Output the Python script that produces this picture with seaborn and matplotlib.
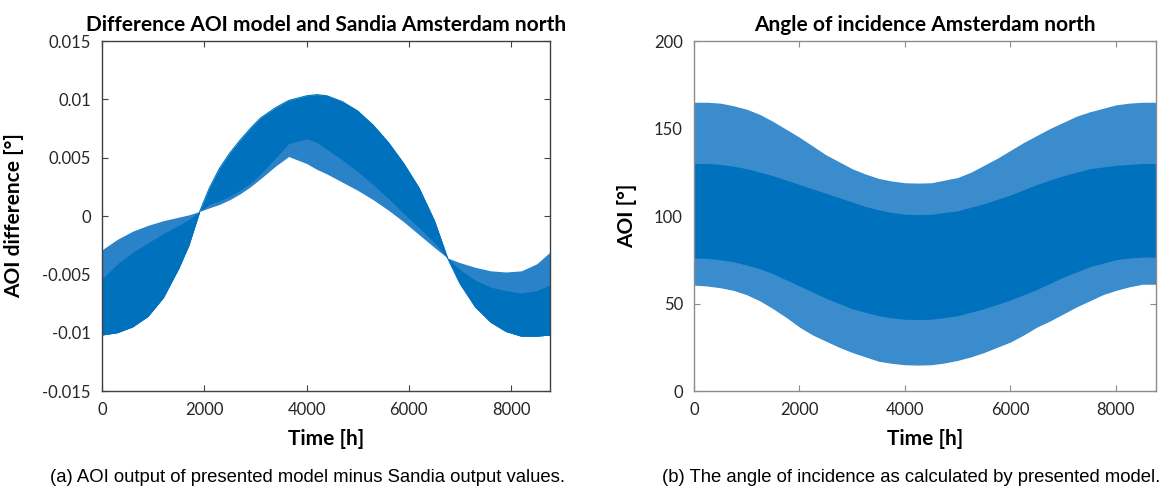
import matplotlib
matplotlib.use("Agg")
import matplotlib.pyplot as plt
import seaborn as sns

# ---- Difference between AOI model and Sandia (degrees), band edges over the year ----
diff_hours = [0, 300, 600, 900, 1200, 1500, 1700, 1912, 2100, 2300, 2500, 2700,
              2900, 3100, 3400, 3650, 4000, 4200, 4400, 4700, 5000, 5300, 5600,
              5900, 6200, 6500, 6757, 7000, 7300, 7600, 7900, 8200, 8500, 8760]
# edge that starts on top of the band (shallow curve)
diff_edge_a = [-0.0029, -0.0020, -0.0013, -0.0008, -0.0004, -0.0001, 0.0001, 0.0004,
               0.0007, 0.0010, 0.0014, 0.0019, 0.0025, 0.0032, 0.0043, 0.0051,
               0.0045, 0.0040, 0.0036, 0.0029, 0.0022, 0.0014, 0.0005, -0.0005,
               -0.0016, -0.0027, -0.0036, -0.0040, -0.0044, -0.0047, -0.0048,
               -0.0047, -0.0041, -0.0031]
# edge that starts at the bottom of the band (steep curve)
diff_edge_b = [-0.0102, -0.0100, -0.0095, -0.0086, -0.0070, -0.0045, -0.0025, 0.0004,
               0.0024, 0.0041, 0.0054, 0.0065, 0.0075, 0.0084, 0.0093, 0.0099,
               0.0103, 0.0104, 0.0103, 0.0098, 0.0090, 0.0078, 0.0063, 0.0045,
               0.0024, -0.0004, -0.0036, -0.0058, -0.0078, -0.0091, -0.0099,
               -0.0103, -0.0103, -0.0102]
# limit of the dense (solid) part next to edge a
diff_core_a = [-0.0054, -0.0041, -0.0031, -0.0023, -0.0015, -0.0008, -0.0003, 0.0004,
               0.0010, 0.0013, 0.0017, 0.0022, 0.0028, 0.0036, 0.0050, 0.0062,
               0.0066, 0.0063, 0.0057, 0.0048, 0.0038, 0.0027, 0.0015, 0.0002,
               -0.0010, -0.0023, -0.0036, -0.0046, -0.0055, -0.0061, -0.0064,
               -0.0066, -0.0064, -0.0059]

# ---- Angle of incidence (degrees), envelope of the daily swing ----
aoi_hours = [0, 250, 500, 750, 1000, 1250, 1500, 1750, 2000, 2250, 2500, 2750,
             3000, 3250, 3500, 3750, 4000, 4250, 4500, 4750, 5000, 5250, 5500,
             5750, 6000, 6250, 6500, 6750, 7000, 7250, 7500, 7750, 8000, 8250,
             8500, 8760]
aoi_max = [165, 165, 164.5, 163, 161, 158, 154, 149.5, 145, 140, 135, 131,
           127, 124, 121.5, 120, 119, 118.8, 119, 120.5, 122, 125, 129,
           133, 137.5, 142, 146, 150, 153.5, 157, 159.5, 161.5, 163.5, 164.5,
           165, 165]
aoi_min = [60.5, 60, 59, 57.5, 55, 51.5, 47, 42, 36.5, 32, 28.5, 25,
           22, 19.5, 17, 15.8, 15, 14.8, 15, 16, 17.5, 19.5, 22,
           25, 28, 32, 36.5, 40, 44, 48, 51.5, 55, 57.5, 59.5,
           61, 61]
aoi_core_max = [130, 130, 129.5, 128.5, 127, 125, 123, 120.5, 118, 115.5, 113, 110.5,
                108, 105.5, 103.5, 102, 101, 100.8, 101, 102, 103, 105, 107,
                109.5, 112, 115, 118, 120.5, 123, 125, 127, 128, 129, 129.5,
                130, 130]
aoi_core_min = [76, 75.8, 75, 73.8, 72, 69.8, 67, 63.5, 60, 56.5, 53, 50,
                47, 45, 43, 41.8, 41, 40.8, 41, 42, 43, 45, 47,
                49.5, 52, 55, 58, 61.5, 65, 68, 71, 73, 75, 76,
                76.5, 76.5]

diff_ticks = [-0.015, -0.01, -0.005, 0, 0.005, 0.01, 0.015]
diff_ticklabels = ["-0.015", "-0.01", "-0.005", "0", "0.005", "0.01", "0.015"]
time_ticks = [0, 2000, 4000, 6000, 8000]
aoi_ticks = [0, 50, 100, 150, 200]

sns.set_theme(style="white")
plt.rcParams["font.family"] = ["Lato", "DejaVu Sans"]

DARK = "#0072BD"
FRINGE_A = "#2a83c8"
FRINGE_B = "#3a8ccd"
TXT = "#262626"

fig = plt.figure(figsize=(11.72, 4.88), dpi=100)
ax1 = fig.add_axes([102 / 1172, 1 - 391 / 488, 448 / 1172, 350 / 488])
ax2 = fig.add_axes([694 / 1172, 1 - 391 / 488, 462 / 1172, 350 / 488])

# left: band of the difference
ax1.fill_between(diff_hours, diff_edge_a, diff_edge_b, color=FRINGE_A, lw=0)
ax1.fill_between(diff_hours, diff_core_a, diff_edge_b, color=DARK, lw=0)
sns.lineplot(x=diff_hours, y=diff_edge_b, ax=ax1, color=DARK, lw=0.8)

# right: band of the angle of incidence
ax2.fill_between(aoi_hours, aoi_min, aoi_max, color=FRINGE_B, lw=0)
ax2.fill_between(aoi_hours, aoi_core_min, aoi_core_max, color=DARK, lw=0)

ax1.set_xlim(0, 8760)
ax1.set_ylim(-0.015, 0.015)
ax1.set_yticks(diff_ticks)
ax1.set_yticklabels(diff_ticklabels)
ax2.set_xlim(0, 8760)
ax2.set_ylim(0, 200)
ax2.set_yticks(aoi_ticks)

for ax, spine_col in ((ax1, "#404040"), (ax2, "#8c8c8c")):
    ax.set_xticks(time_ticks)
    for s in ax.spines.values():
        s.set_visible(True)
        s.set_color(spine_col)
        s.set_linewidth(1.0)
    ax.tick_params(direction="in", length=4, width=0.8, color=spine_col,
                   top=True, right=True, bottom=True, left=True,
                   labelsize=12, labelcolor=TXT, pad=8)
    ax.set_xlabel("Time [h]", fontsize=15, fontweight="bold", color="black")
    ax.xaxis.set_label_coords(0.5, -38 / 350)
    ax.grid(False)

ax1.set_ylabel("AOI difference [°]", fontsize=15, fontweight="bold", color="black")
ax1.yaxis.set_label_coords((24 - 102) / 448, 0.5)
ax2.set_ylabel("AOI [°]", fontsize=15, fontweight="bold", color="black")
ax2.yaxis.set_label_coords((637 - 694) / 462, 0.5)

ax1.set_title("Difference AOI model and Sandia Amsterdam north",
              fontsize=15, fontweight="bold", color="black", pad=7)
ax2.set_title("Angle of incidence Amsterdam north",
              fontsize=15, fontweight="bold", color="black", pad=7)

cap_font = ["Liberation Sans", "DejaVu Sans"]
fig.text(308 / 1172, 1 - 477 / 488,
         "(a) AOI output of presented model minus Sandia output values.",
         ha="center", va="center", fontsize=13.3, family=cap_font, color="black")
fig.text(911 / 1172, 1 - 477 / 488,
         "(b) The angle of incidence as calculated by presented model.",
         ha="center", va="center", fontsize=13.3, family=cap_font, color="black")

fig.savefig("out.png", dpi=100, facecolor="white")
